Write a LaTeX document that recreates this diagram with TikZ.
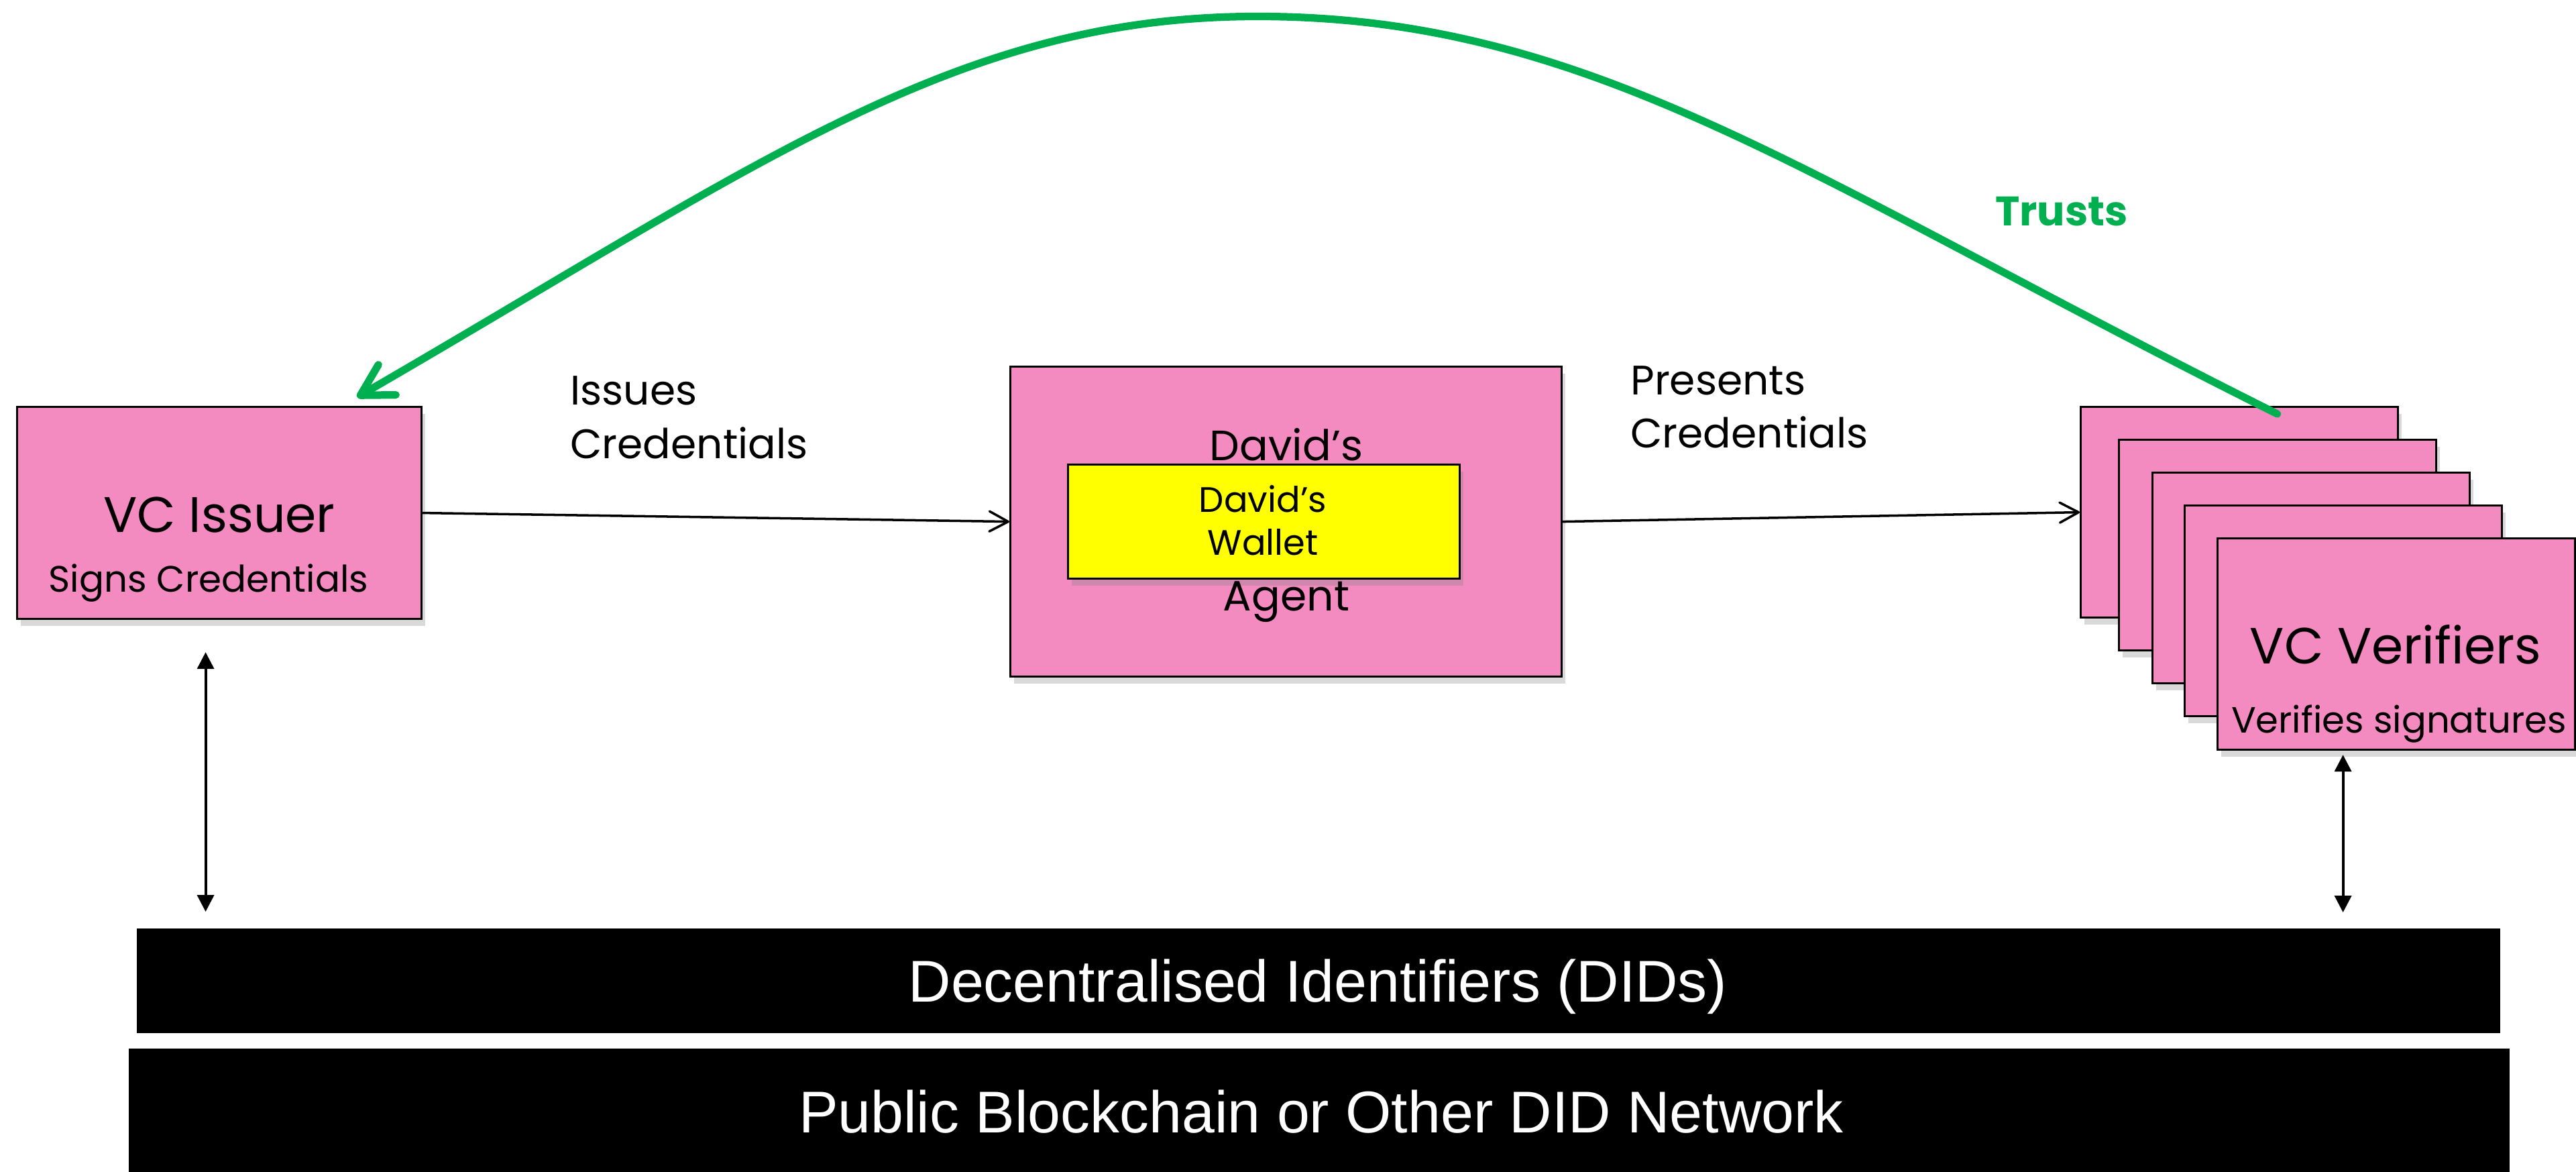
\documentclass[tikz,border=0pt]{standalone}
\usepackage{fontspec}
\newfontfamily\barfont{Liberation Sans}
\newfontfamily\gothicfont{Poppins}
\newcommand\gothic[2]{\gothicfont\fontsize{#1}{#2}\selectfont}
\usetikzlibrary{arrows.meta,shadows,calc}
\definecolor{boxpink}{HTML}{F38BC1}
\definecolor{walletyellow}{HTML}{FFFF00}
\definecolor{trustgreen}{HTML}{00B050}
\tikzset{>={Triangle[length=2.5mm,width=2.5mm]}}
\tikzset{
  pinkbox/.style={draw,line width=0.9pt,fill=boxpink,anchor=north west,inner sep=0pt,
    drop shadow={shadow xshift=0.5mm,shadow yshift=-1mm,opacity=0.3}},
  walletbox/.style={pinkbox,fill=walletyellow},
  didbar/.style={fill=black,anchor=north west,inner sep=0pt},
  bartext/.style={anchor=base,text=white,font=\barfont\fontsize{25}{30}\selectfont},
  line arrow/.style={-{Straight Barb[length=2.8mm,width=3mm,round]},line width=1pt},
  trust/.style={trustgreen,line width=3.2pt,line cap=round,
    -{Straight Barb[length=4.6mm,width=5.2mm,round]}}
}

\begin{document}
\begin{tikzpicture}
  \useasboundingbox (0,0) rectangle (38.41,-17.47);

  \node[pinkbox,minimum width=6.03cm,minimum height=3.16cm](issuer) at (0.24,-6.05) {};
  \node[pinkbox,minimum width=8.22cm,minimum height=4.62cm](agent) at (15.05,-5.45) {};
  \node[walletbox,minimum width=5.84cm,minimum height=1.70cm](wallet) at (15.91,-6.91) {};

  \foreach \x/\y [count=\i] in {31.01/-6.05, 31.58/-6.54, 32.08/-7.03, 32.56/-7.52} {
    \node[pinkbox,minimum width=4.73cm,minimum height=3.14cm](ver\i) at (\x,\y) {};
  }
  \node[pinkbox,minimum width=5.33cm,minimum height=3.15cm](ver5) at (33.05,-8.01) {};

  \node[didbar,minimum width=35.24cm,minimum height=1.56cm](dids) at (2.03,-13.83) {};
  \node[didbar,minimum width=35.50cm,minimum height=1.95cm](net) at (1.91,-15.62) {};

  \node[anchor=base,font=\gothic{21.2}{25}] at (3.27,-7.93) {VC Issuer};
  \node[anchor=base,font=\gothic{15.6}{19}] at (3.11,-8.82) {Signs Credentials};

  \node[anchor=base west,font=\gothic{17.5}{21}] at (8.38,-6.04) {Issues};
  \node[anchor=base west,font=\gothic{17.5}{21}] at (8.38,-6.83) {Credentials};
  \node[anchor=base west,font=\gothic{17.5}{21}] at (24.19,-5.89) {Presents};
  \node[anchor=base west,font=\gothic{17.5}{21}] at (24.19,-6.68) {Credentials};

  \node[anchor=base,font=\gothic{18}{21}] at (19.18,-6.87) {David’s};
  \node[anchor=base,font=\gothic{18}{21}] at (19.18,-9.10) {Agent};
  \node[anchor=base,font=\gothic{15}{18}] at (18.83,-7.63) {David’s};
  \node[anchor=base,font=\gothic{15}{18}] at (18.83,-8.27) {Wallet};

  \node[anchor=base,font=\gothic{21.6}{26}] at (35.72,-9.89) {VC Verifiers};
  \node[anchor=base,font=\gothic{15.5}{19}] at (35.77,-10.92) {Verifies signatures};

  \node[bartext] at (19.65,-14.93) {Decentralised Identifiers (DIDs)};
  \node[bartext] at (19.70,-16.88) {Public Blockchain or Other DID Network};

  \draw[line arrow] (issuer.east) -- (agent.west);
  \draw[line arrow] (agent.east) -- (ver1.west);

  \draw[<->,line width=1.1pt] ($(issuer.south)+(-0.205,-0.48)$) -- ($(issuer.south |- dids.north)+(-0.205,0.24)$);
  \draw[<->,line width=1.1pt] ($(ver5.south)+(-0.795,-0.06)$) -- ($(ver5.south |- dids.north)+(-0.795,0.23)$);

  \draw[trust] ($(ver1.north)+(0.565,-0.12)$) .. controls (26.94,-2.67) and (23.75,-0.245) .. (18.75,-0.245)
    .. controls (14.25,-0.245) and (11.34,-2.44) .. ($(issuer.north)+(2.055,0.13)$);
  \node[anchor=base,text=trustgreen,font={\gothic{17.5}{21}\bfseries}] at (30.74,-3.37) {Trusts};
\end{tikzpicture}
\end{document}
